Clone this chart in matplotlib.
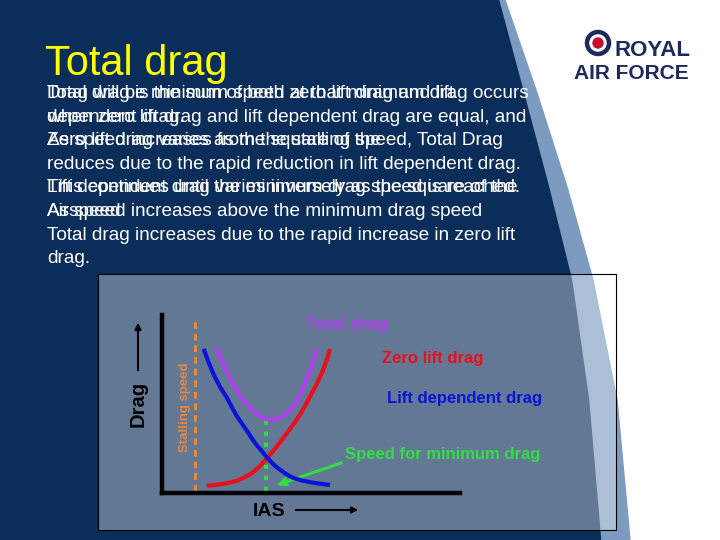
import matplotlib.pyplot as plt
from matplotlib.patches import Polygon, Rectangle, Circle

plt.rcParams["font.family"] = ["Liberation Sans", "DejaVu Sans"]

# slide text
title = 'Total drag'
body_lines = [
    ['Total drag is the sum of both zero lift drag and lift',
     'Drag will be minimum speed at that minimum drag occurs'],
    ['dependent drag.',
     'when zero lift drag and lift dependent drag are equal, and'],
    ['Zero lift drag varies as the square of the',
     'As speed increases from the stalling speed, Total Drag'],
    ['reduces due to the rapid reduction in lift dependent drag.'],
    ['Lift dependent drag varies inversely as the square of the',
     'This continues until the minimum drag speed is reached.'],
    ['Airspeed',
     'As speed increases above the minimum drag speed'],
    ['Total drag increases due to the rapid increase in zero lift'],
    ['drag.'],
]

# drag curves (IAS, drag) in arbitrary units 0..100
stall_speed = 11
min_drag_speed = 35
min_total_drag = 41

lift_dep_ias = [14, 15.5, 17.5, 19.5, 21.8, 23.5, 25, 27, 28.5, 30, 31.5, 33.5,
                35.2, 37, 39, 41.5, 44, 47, 50, 53, 56.4]
lift_dep_drag = [81, 74, 66, 59.5, 53.5, 48, 43.5, 38.5, 35, 31, 27.5, 23.5,
                 20, 16.8, 13.8, 10.8, 8.5, 7, 6, 5.2, 4.5]

zero_lift_ias = [15, 17.5, 20, 22.5, 25, 27.5, 30, 32.5, 35, 37.5, 40, 42.5,
                 45, 47, 49, 50.5, 52, 53.3, 54.5, 55.5, 56.4]
zero_lift_drag = [4, 4.4, 5, 5.8, 6.8, 8.6, 11, 14.5, 19, 24, 29.3, 35,
                  40.7, 46, 52, 56.8, 61.6, 66.2, 71, 76, 81]

total_ias = [18.5, 19.7, 21, 22.4, 23.8, 25.4, 27, 28.8, 30.5, 32, 33.5, 35,
             36.2, 37.5, 39, 40.5, 42, 43.5, 45, 46.2, 47.3, 48.7, 50, 51, 52]
total_drag = [81, 76, 71, 66, 61.6, 57, 53, 49.3, 46.3, 44.3, 42.6, 41.5,
              41, 41.2, 42, 43.3, 45, 47.6, 51, 54.8, 59, 64.5, 70, 75.5, 81]

navy = '#0a2d5a'
stripe = '#7d9bc1'

fig = plt.figure(figsize=(7.2, 5.4), dpi=100)
bg = fig.add_axes([0, 0, 1, 1])
bg.set_xlim(0, 720)
bg.set_ylim(540, 0)
bg.axis('off')

# background: navy panel, light stripe, white area
edge_l = [(500, 0), (525, 93), (550, 187), (573, 280), (590, 400), (602, 540)]
edge_r = [(505, 0), (537, 93), (567, 187), (593, 280), (617, 400), (630, 540)]
bg.add_patch(Rectangle((0, 0), 720, 540, color='white', zorder=0))
bg.add_patch(Polygon([(0, 0)] + edge_l + [(0, 540)], color=navy, zorder=1))
bg.add_patch(Polygon(edge_l + edge_r[::-1], color=stripe, zorder=1))

# title
bg.text(45, 75, title, color='#ffff00', fontsize=30, va='baseline', zorder=3)

# body text (overlapping layers)
y0 = 98
for i, layers in enumerate(body_lines):
    for s in layers:
        bg.text(47, y0 + i * 23.6, s, color='white', fontsize=13.7,
                va='baseline', zorder=3)

# logo
bg.add_patch(Circle((598, 43), 11, fill=False, ec='#1c2b5c', lw=3.2, zorder=3))
bg.add_patch(Circle((598, 43), 5, color='#c8102e', zorder=3))
bg.text(614, 56, 'ROYAL', color='#1c2b5c', fontsize=16, fontweight='bold',
        va='baseline', zorder=3)
bg.text(574, 79, 'AIR FORCE', color='#1c2b5c', fontsize=15, fontweight='bold',
        va='baseline', zorder=3)

# chart image box
bg.add_patch(Rectangle((98, 274), 518, 256, fc='white', alpha=0.36, zorder=2))
bg.add_patch(Rectangle((98, 274), 518, 256, fill=False, ec='black', lw=0.8, zorder=2))

ax = fig.add_axes([162 / 720, (540 - 493) / 540, (460 - 162) / 720, (493 - 315) / 540])
ax.patch.set_alpha(0)
ax.set_xlim(0, 100)
ax.set_ylim(0, 100)
for s in ['top', 'right']:
    ax.spines[s].set_visible(False)
for s in ['left', 'bottom']:
    ax.spines[s].set_linewidth(3.2)
    ax.spines[s].set_color('black')
ax.set_xticks([])
ax.set_yticks([])

ax.plot([stall_speed, stall_speed], [1, 99], color='#e8893a', lw=2.2, ls=(0, (2.2, 1.6)))
ax.plot([min_drag_speed, min_drag_speed], [1, min_total_drag], color='#33dd44', lw=3, ls=':')
ax.plot(zero_lift_ias, zero_lift_drag, color='#e8101a', lw=3, solid_capstyle='butt')
ax.plot(lift_dep_ias, lift_dep_drag, color='#0a14d8', lw=3, solid_capstyle='butt')
ax.plot(total_ias, total_drag, color='#b040ee', lw=3, solid_capstyle='butt')

# chart labels
bg.text(185, 407, 'Stalling speed', color='#e8893a', fontsize=9.5, fontweight='bold',
        rotation=90, ha='center', va='center', zorder=4)
bg.text(138, 404, 'Drag', color='black', fontsize=14.5, fontweight='bold',
        rotation=90, ha='center', va='center', zorder=4)
bg.annotate('', xy=(138, 320), xytext=(138, 373), zorder=4,
            arrowprops=dict(arrowstyle='-|>', color='black', lw=1.5, mutation_scale=9))
bg.text(269, 511, 'IAS', color='black', fontsize=14, fontweight='bold',
        ha='center', va='center', zorder=4)
bg.annotate('', xy=(361, 510), xytext=(293, 510), zorder=4,
            arrowprops=dict(arrowstyle='-|>', color='black', lw=1.5, mutation_scale=9))

bg.text(305, 325, 'Total drag', color='#b040ee', fontsize=12.5, fontweight='bold',
        va='center', zorder=4)
bg.text(382, 359, 'Zero lift drag', color='#e8101a', fontsize=12, fontweight='bold',
        va='center', zorder=4)
bg.text(387, 398, 'Lift dependent drag', color='#0a14d8', fontsize=12, fontweight='bold',
        va='center', zorder=4)
bg.text(345, 455, 'Speed for minimum drag', color='#33dd44', fontsize=12, fontweight='bold',
        va='center', zorder=4)
bg.annotate('', xy=(274, 486), xytext=(344, 462), zorder=4,
            arrowprops=dict(arrowstyle='-|>', color='#33dd44', lw=2.2, mutation_scale=12))

fig.savefig('out.png', dpi=100)
